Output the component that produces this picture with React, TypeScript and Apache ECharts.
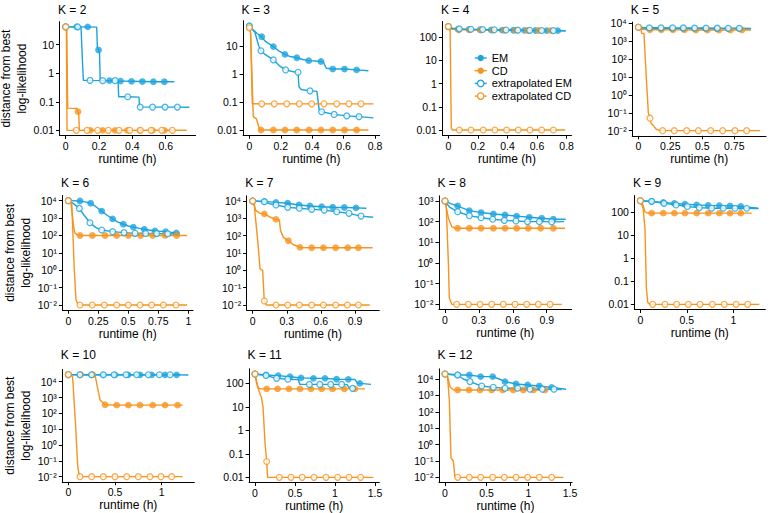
import React, { useEffect, useRef } from 'react';
import * as echarts from 'echarts';

// ---------- data: [runtime (h), distance from best log-likelihood, marker?] ----------
const K2_EM = [[0,42,1],[0.066,42,1],[0.132,42,1],[0.186,41],[0.19,8],[0.197,6.5,1],[0.203,5],[0.207,0.56],[0.263,0.55,1],[0.329,0.53,1],[0.395,0.52,1],[0.46,0.51,1],[0.526,0.5,1],[0.592,0.5,1],[0.652,0.5]];
const K2_CD = [[0,42,1],[0.006,40],[0.012,0.06],[0.068,0.058],[0.074,0.045,1],[0.078,0.04],[0.082,0.01],[0.148,0.01,1],[0.222,0.01,1],[0.296,0.01,1],[0.37,0.01,1],[0.445,0.01,1],[0.52,0.01,1],[0.592,0.01,1],[0.72,0.01]];
const K2_XEM = [[0,42,1],[0.072,42,1],[0.092,41],[0.1,3],[0.106,0.57],[0.146,0.56,1],[0.222,0.55,1],[0.296,0.55,1],[0.314,0.55],[0.318,0.15],[0.372,0.15,1],[0.44,0.145],[0.443,0.066],[0.447,0.065,1],[0.521,0.065,1],[0.596,0.065,1],[0.67,0.065,1],[0.742,0.064]];
const K2_XCD = [[0,42,1],[0.004,40],[0.008,0.01],[0.064,0.01,1],[0.128,0.01,1],[0.192,0.01,1],[0.256,0.01,1],[0.32,0.01,1],[0.384,0.01,1],[0.448,0.01,1],[0.512,0.01,1],[0.576,0.01,1],[0.64,0.01,1],[0.726,0.01]];

const K3_EM = [[0,52,1],[0.02,40],[0.05,28],[0.079,21.5,1],[0.1,15],[0.153,9.5,1],[0.19,6.5],[0.227,5,1],[0.26,4.2],[0.302,3.8,1],[0.34,3.3],[0.378,3,1],[0.42,2.9],[0.456,2.8,1],[0.47,2.7],[0.49,1.6],[0.531,1.5,1],[0.606,1.5,1],[0.683,1.4,1],[0.758,1.3]];
const K3_CD = [[0,45,1],[0.008,30],[0.025,0.03],[0.045,0.025],[0.062,0.012],[0.068,0.01],[0.074,0.01,1],[0.153,0.01,1],[0.227,0.01,1],[0.302,0.01,1],[0.38,0.01,1],[0.456,0.01,1],[0.531,0.01,1],[0.606,0.01,1],[0.683,0.01,1],[0.758,0.01]];
const K3_XEM = [[0,52,1],[0.036,30],[0.06,10],[0.074,6.8,1],[0.1,5],[0.153,3.2,1],[0.19,2],[0.231,1.4,1],[0.28,1.2],[0.31,1.15,1],[0.316,0.35],[0.33,0.28],[0.386,0.25,1],[0.43,0.24],[0.445,0.05],[0.46,0.045,1],[0.54,0.036,1],[0.62,0.032,1],[0.698,0.03,1],[0.79,0.027]];
const K3_XCD = [[0,45,1],[0.008,30],[0.019,0.087],[0.079,0.086,1],[0.159,0.086,1],[0.238,0.086,1],[0.318,0.086,1],[0.397,0.086,1],[0.475,0.086,1],[0.556,0.086,1],[0.634,0.086,1],[0.711,0.086,1],[0.79,0.086]];

const K4_EM = [[0,290,1],[0.02,240],[0.066,225,1],[0.14,218,1],[0.215,212,1],[0.29,208,1],[0.365,204,1],[0.44,201,1],[0.515,199,1],[0.59,197,1],[0.665,195,1],[0.74,194,1],[0.793,193]];
const K4_CD = [[0,290,1],[0.015,230],[0.07,212,1],[0.145,210,1],[0.22,207,1],[0.3,205,1],[0.378,203,1],[0.455,200,1],[0.535,198,1],[0.612,196,1],[0.69,194,1]];
const K4_XEM = [[0,290,1],[0.02,245],[0.074,232,1],[0.153,224,1],[0.232,218,1],[0.311,213,1],[0.39,208,1],[0.47,204,1],[0.55,200,1],[0.631,197,1],[0.71,195,1],[0.793,193]];
const K4_XCD = [[0,290,1],[0.012,280],[0.02,0.012],[0.028,0.01],[0.074,0.01,1],[0.153,0.01,1],[0.236,0.01,1],[0.315,0.01,1],[0.394,0.01,1],[0.473,0.01,1],[0.552,0.01,1],[0.631,0.01,1],[0.71,0.01,1],[0.79,0.01]];

const K5_EM = [[0,6000,1],[0.03,5400],[0.088,5200,1],[0.176,5150,1],[0.264,5100,1],[0.352,5050,1],[0.44,5000,1],[0.528,5000,1],[0.616,4950,1],[0.704,4900,1],[0.792,4900,1],[0.88,4850]];
const K5_CD = [[0,6000,1],[0.02,4600],[0.09,4400,1],[0.18,4350,1],[0.27,4300,1],[0.36,4300,1],[0.45,4250,1],[0.54,4250,1],[0.63,4200,1],[0.72,4200,1],[0.81,4200,1],[0.88,4150]];
const K5_XEM = [[0,6000,1],[0.04,5800],[0.086,5700,1],[0.177,5650,1],[0.268,5600,1],[0.352,5550,1],[0.44,5500,1],[0.529,5450,1],[0.617,5400,1],[0.703,5350,1],[0.789,5300,1],[0.88,5200]];
const K5_XCD = [[0,6000,1],[0.02,5500],[0.026,2750],[0.044,2700],[0.062,10],[0.078,0.1],[0.091,0.05,1],[0.1,0.025],[0.12,0.018],[0.14,0.012],[0.17,0.01],[0.19,0.01,1],[0.281,0.01,1],[0.378,0.01,1],[0.469,0.01,1],[0.565,0.01,1],[0.659,0.01,1],[0.755,0.01,1],[0.846,0.01,1],[0.95,0.01]];

const K6_EM = [[0,10000,1],[0.097,9500,1],[0.14,8500],[0.186,7100,1],[0.23,4500],[0.278,2500,1],[0.32,1500],[0.369,890,1],[0.41,600],[0.458,440,1],[0.5,350],[0.542,300,1],[0.633,225,1],[0.722,180,1],[0.811,165,1],[0.9,140,1],[0.93,130]];
const K6_CD = [[0,10000,1],[0.02,9000],[0.045,300],[0.056,130],[0.08,105],[0.097,100,1],[0.2,100,1],[0.306,100,1],[0.403,100,1],[0.5,100,1],[0.603,100,1],[0.703,100,1],[0.806,100,1],[0.903,100,1],[0.99,100]];
const K6_XEM = [[0,10000,1],[0.04,7000],[0.092,3600,1],[0.13,1500],[0.18,540,1],[0.23,280],[0.278,205,1],[0.369,165,1],[0.464,145,1],[0.556,132,1],[0.644,130,1],[0.736,128,1],[0.828,125,1],[0.917,120]];
const K6_XCD = [[0,10000,1],[0.02,9500],[0.028,8000],[0.05,1],[0.064,0.02],[0.08,0.011],[0.097,0.01,1],[0.2,0.01,1],[0.3,0.01,1],[0.403,0.01,1],[0.5,0.01,1],[0.597,0.01,1],[0.694,0.01,1],[0.792,0.01,1],[0.897,0.01,1],[0.99,0.01]];

const K7_EM = [[0,10000,1],[0.103,9500,1],[0.205,8300,1],[0.308,7400,1],[0.408,5900,1],[0.504,5200,1],[0.607,4700,1],[0.704,4400,1],[0.806,4200,1],[0.909,4000,1],[1.0,3800]];
const K7_CD = [[0,10000,1],[0.01,9000],[0.025,3000],[0.06,2000],[0.103,1800,1],[0.15,1200],[0.205,870,1],[0.235,800],[0.245,200],[0.27,80],[0.314,51,1],[0.36,30],[0.416,21,1],[0.519,20,1],[0.622,20,1],[0.73,20,1],[0.836,20,1],[0.93,20,1],[1.055,20]];
const K7_XEM = [[0,10000,1],[0.103,9000,1],[0.15,7000],[0.205,5900,1],[0.308,4300,1],[0.41,3800,1],[0.519,3300,1],[0.63,3000,1],[0.739,2400,1],[0.847,1950,1],[0.953,1350,1],[1.06,1150]];
const K7_XCD = [[0,10000,1],[0.015,5000],[0.025,1000],[0.04,100],[0.055,8],[0.065,1.2],[0.088,1],[0.1,0.03],[0.103,0.017,1],[0.12,0.01],[0.205,0.01,1],[0.308,0.01,1],[0.41,0.01,1],[0.519,0.01,1],[0.622,0.01,1],[0.73,0.01,1],[0.833,0.01,1],[0.93,0.01,1],[1.03,0.01]];

const K8_EM = [[0,1000,1],[0.05,750],[0.112,570,1],[0.215,340,1],[0.319,275,1],[0.428,235,1],[0.531,210,1],[0.634,185,1],[0.746,162,1],[0.856,145,1],[0.959,130,1],[1.068,130]];
const K8_CD = [[0,1000,1],[0.03,150],[0.059,58],[0.09,48],[0.112,48,1],[0.215,48,1],[0.319,48,1],[0.428,48,1],[0.531,48,1],[0.634,48,1],[0.737,48,1],[0.847,48,1],[0.959,48,1],[1.062,48]];
const K8_XEM = [[0,1000,1],[0.04,500],[0.112,300,1],[0.215,195,1],[0.319,155,1],[0.422,130,1],[0.525,115,1],[0.628,107,1],[0.73,100,1],[0.835,100,1],[0.944,98,1],[1.053,100]];
const K8_XCD = [[0,1000,1],[0.01,800],[0.03,1],[0.038,0.02],[0.06,0.01],[0.103,0.01,1],[0.207,0.01,1],[0.31,0.01,1],[0.413,0.01,1],[0.516,0.01,1],[0.62,0.01,1],[0.723,0.01,1],[0.826,0.01,1],[0.93,0.01,1],[1.033,0.01]];

const K9_EM = [[0,320,1],[0.122,300,1],[0.247,270,1],[0.366,245,1],[0.48,225,1],[0.606,210,1],[0.73,200,1],[0.85,195,1],[0.964,190,1],[1.08,180,1],[1.27,150]];
const K9_CD = [[0,320,1],[0.03,200],[0.05,105],[0.08,93],[0.122,92,1],[0.247,92,1],[0.366,92,1],[0.48,92,1],[0.606,92,1],[0.73,92,1],[0.85,92,1],[0.964,92,1],[1.08,92,1],[1.197,92]];
const K9_XEM = [[0,320,1],[0.122,300,1],[0.254,245,1],[0.384,210,1],[0.505,180,1],[0.634,160,1],[0.767,150,1],[0.892,150,1],[1.018,150,1],[1.143,150,1],[1.27,145]];
const K9_XCD = [[0,320,1],[0.03,150],[0.05,20],[0.065,0.05],[0.08,0.012],[0.1,0.01],[0.133,0.01,1],[0.265,0.01,1],[0.39,0.01,1],[0.516,0.01,1],[0.642,0.01,1],[0.774,0.01,1],[0.903,0.01,1],[1.03,0.01,1],[1.154,0.01,1],[1.28,0.01]];

const K10_EM = [[0,28000,1],[0.125,27000,1],[0.25,27000,1],[0.375,27000,1],[0.5,27000,1],[0.64,27000,1],[0.768,27000,1],[0.893,27000,1],[1.036,27000,1],[1.16,27000,1],[1.286,26500]];
const K10_CD = [[0,28000,1],[0.131,28000,1],[0.262,28000,1],[0.286,27000],[0.31,5000],[0.34,700],[0.38,400],[0.393,350,1],[0.518,330,1],[0.643,330,1],[0.768,330,1],[0.904,330,1],[1.036,330,1],[1.171,330,1],[1.225,330]];
const K10_XEM = [[0,28000,1],[0.125,27500,1],[0.25,27500,1],[0.375,27500,1],[0.49,27500,1],[0.618,27500,1],[0.732,27500,1],[0.857,27500,1],[0.975,27500,1],[1.09,27500,1],[1.2,27500]];
const K10_XCD = [[0,28000,1],[0.03,27000],[0.046,20000],[0.08,10],[0.1,0.05],[0.118,0.011],[0.125,0.01,1],[0.25,0.01,1],[0.375,0.01,1],[0.5,0.01,1],[0.625,0.01,1],[0.75,0.01,1],[0.875,0.01,1],[0.993,0.01,1],[1.107,0.01,1],[1.225,0.01]];

const K11_EM = [[0,250,1],[0.1375,226,1],[0.29,212,1],[0.4375,190,1],[0.575,170,1],[0.73,163,1],[0.875,163,1],[1.02,150,1],[1.167,148,1],[1.25,145],[1.28,105],[1.31,100,1],[1.45,90]];
const K11_CD = [[0,250,1],[0.02,120],[0.042,62],[0.08,58],[0.146,58,1],[0.283,58,1],[0.425,58,1],[0.5625,58,1],[0.7,58,1],[0.833,58,1],[0.97,58,1],[1.117,58,1],[1.25,58,1],[1.375,58]];
const K11_XEM = [[0,250,1],[0.1375,215,1],[0.27,163,1],[0.41,150,1],[0.54,145],[0.56,92],[0.68,90,1],[0.81,90,1],[0.946,90,1],[1.083,90,1],[1.15,88],[1.18,62],[1.22,61,1],[1.235,60]];
const K11_XCD = [[0,250,1],[0.02,100],[0.04,60],[0.08,25],[0.1,10],[0.125,0.3],[0.146,0.047,1],[0.152,0.02],[0.158,0.01],[0.304,0.01,1],[0.45,0.01,1],[0.59,0.01,1],[0.7375,0.01,1],[0.8875,0.01,1],[1.033,0.01,1],[1.175,0.01,1],[1.32,0.01,1],[1.48,0.01]];

const K12_EM = [[0,20000,1],[0.152,17500,1],[0.292,17500,1],[0.428,14000,1],[0.572,14000,1],[0.65,10000],[0.72,6900,1],[0.852,4950,1],[0.992,4300,1],[1.132,3700,1],[1.28,3100,1],[1.452,2350]];
const K12_CD = [[0,20000,1],[0.03,15000],[0.06,3400],[0.1,2200],[0.152,2150,1],[0.288,2150,1],[0.42,2150,1],[0.56,2150,1],[0.692,2150,1],[0.82,2150,1],[0.94,2150,1],[1.06,2150,1],[1.2,2150,1],[1.22,2150]];
const K12_XEM = [[0,20000,1],[0.152,17500,1],[0.22,10000],[0.3,6900,1],[0.44,3700,1],[0.58,3100,1],[0.72,2700,1],[0.872,2700,1],[1.02,2350,1],[1.168,2350,1],[1.308,2350,1],[1.4,2300]];
const K12_XCD = [[0,20000,1],[0.03,15000],[0.052,500],[0.072,0.15],[0.1,0.1],[0.12,0.01],[0.152,0.01,1],[0.292,0.01,1],[0.428,0.01,1],[0.572,0.01,1],[0.712,0.01,1],[0.852,0.01,1],[0.992,0.01,1],[1.132,0.01,1],[1.28,0.01,1],[1.42,0.01]];

const K_VALUES = [2, 3, 4, 5, 6, 7, 8, 9, 10, 11, 12];
const TRACES = [
  [K2_EM, K2_CD, K2_XEM, K2_XCD],
  [K3_EM, K3_CD, K3_XEM, K3_XCD],
  [K4_EM, K4_CD, K4_XEM, K4_XCD],
  [K5_EM, K5_CD, K5_XEM, K5_XCD],
  [K6_EM, K6_CD, K6_XEM, K6_XCD],
  [K7_EM, K7_CD, K7_XEM, K7_XCD],
  [K8_EM, K8_CD, K8_XEM, K8_XCD],
  [K9_EM, K9_CD, K9_XEM, K9_XCD],
  [K10_EM, K10_CD, K10_XEM, K10_XCD],
  [K11_EM, K11_CD, K11_XEM, K11_XCD],
  [K12_EM, K12_CD, K12_XEM, K12_XCD],
];
const X_TICK_STEPS = [0.2, 0.2, 0.2, 0.25, 0.25, 0.3, 0.3, 0.5, 0.5, 0.5, 0.5];
const POWER_LABELS = [false, false, false, true, true, true, true, false, true, false, true];
const SERIES_NAMES = ['EM', 'CD', 'extrapolated EM', 'extrapolated CD'];

// ---------- styles / layout ----------
const BLUE = '#1BA3DD';
const ORANGE = '#F7931E';
const COLORS = [BLUE, ORANGE, BLUE, ORANGE];
const OPEN = [false, false, true, true];
const FONT = '"Liberation Sans", Arial, Helvetica, sans-serif';

// pixel of x=0, px per hour, pixel of y=0.01, px per decade, title centre y
const LAYOUT = [
  { x0: 65.7, pxH: 166.67, y01: 130.33, pxD: 28.56, ty: 10 },
  { x0: 249.33, pxH: 157.1, y01: 130, pxD: 28, ty: 10 },
  { x0: 448.33, pxH: 147.9, y01: 130, pxD: 23.17, ty: 10 },
  { x0: 638.33, pxH: 128, y01: 130.67, pxD: 17.89, ty: 10 },
  { x0: 68.33, pxH: 120, y01: 305, pxD: 17.39, ty: 183.3 },
  { x0: 252.67, pxH: 113.7, y01: 305, pxD: 17.33, ty: 183.3 },
  { x0: 445, pxH: 113, y01: 304.33, pxD: 20.67, ty: 183.3 },
  { x0: 640.33, pxH: 93, y01: 304.33, pxD: 23, ty: 183.3 },
  { x0: 68.33, pxH: 93.33, y01: 476.67, pxD: 15.83, ty: 355 },
  { x0: 255, pxH: 80, y01: 477.33, pxD: 23.5, ty: 355 },
  { x0: 445, pxH: 83.33, y01: 477.33, pxD: 16.39, ty: 355 },
];
const FIRST_COLUMN = [0, 4, 8];

const SUP: Record<string, string> = { '-': '⁻', '0': '⁰', '1': '¹', '2': '²', '3': '³', '4': '⁴', '5': '⁵', '6': '⁶' };
function fmtY(v: number, power: boolean): string {
  const n = Math.round(v);
  if (power) return '10' + String(n).split('').map((c) => SUP[c]).join('');
  if (n >= 0) return String(Math.pow(10, n));
  return '0.' + '0'.repeat(-n - 1) + '1';
}
function fmtX(v: number): string {
  return String(Math.round(v * 1000) / 1000);
}

function buildOption() {
  const grid: any[] = [];
  const xAxis: any[] = [];
  const yAxis: any[] = [];
  const title: any[] = [];
  const lines: any[] = [];
  const marks: any[] = [];

  TRACES.forEach((traces, i) => {
    const L = LAYOUT[i];
    const all = ([] as number[][]).concat(...traces);
    const M = Math.max(...all.map((q) => q[0]));
    const logs = all.map((q) => Math.log10(q[1]));
    const lmin = Math.min(...logs);
    const lmax = Math.max(...logs);
    const xmin = -0.05 * M;
    const xmax = 1.05 * M;
    const r = lmax - lmin;
    const ymin = lmin - 0.05 * r;
    const ymax = lmax + 0.05 * r;

    const left = L.x0 + xmin * L.pxH;
    const width = (xmax - xmin) * L.pxH;
    const top = L.y01 - (ymax + 2) * L.pxD;
    const height = (ymax - ymin) * L.pxD;
    grid.push({ left, top, width, height, containLabel: false, outerBoundsMode: 'none' });

    const step = X_TICK_STEPS[i];
    const xt: number[] = [];
    for (let k = 0; k * step <= xmax + 1e-9; k++) xt.push(Math.round(k * step * 1000) / 1000);
    const yt: number[] = [];
    for (let v = Math.ceil(ymin); v <= Math.floor(ymax); v++) yt.push(v);

    const axisCommon = {
      axisLine: { show: true, onZero: false, lineStyle: { color: '#000', width: 1 } },
      splitLine: { show: false },
    };
    xAxis.push({
      type: 'value', gridIndex: i, min: xmin, max: xmax, ...axisCommon,
      axisTick: { show: true, length: 3.5, customValues: xt, lineStyle: { color: '#000', width: 1 } },
      axisLabel: { customValues: xt, color: '#000', fontSize: 10.5, fontFamily: FONT, margin: 5, formatter: (v: number) => fmtX(v) },
      name: 'runtime (h)', nameLocation: 'middle', nameGap: 17.5,
      nameTextStyle: { color: '#000', fontSize: 12, fontFamily: FONT },
    });
    const firstCol = FIRST_COLUMN.indexOf(i) >= 0;
    yAxis.push({
      type: 'value', gridIndex: i, min: ymin, max: ymax, ...axisCommon,
      axisTick: { show: true, length: 3.5, customValues: yt, lineStyle: { color: '#000', width: 1 } },
      axisLabel: { customValues: yt, color: '#000', fontSize: 10.5, fontFamily: FONT, margin: 5.5, formatter: (v: number) => fmtY(v, POWER_LABELS[i]) },
      name: firstCol ? 'distance from best\nlog-likelihood' : '',
      nameLocation: 'middle', nameRotate: 90, nameGap: left - 36,
      nameTextStyle: { color: '#000', fontSize: 12, lineHeight: 16, fontFamily: FONT },
    });
    title.push({
      text: 'K = ' + K_VALUES[i], left: left - 1.5, top: L.ty - 7, padding: 0,
      textStyle: { color: '#000', fontSize: 12, fontWeight: 'normal', lineHeight: 14, fontFamily: FONT },
    });

    traces.forEach((pts, s) => {
      const color = COLORS[s];
      lines.push({
        type: 'line', name: SERIES_NAMES[s], xAxisIndex: i, yAxisIndex: i,
        data: pts.map((q) => [q[0], Math.log10(q[1])]),
        showSymbol: false, symbol: 'circle', silent: true, z: 2,
        lineStyle: { color, width: 1.4 },
        itemStyle: OPEN[s] ? { color: '#fff', borderColor: color, borderWidth: 1.2 } : { color },
      });
      marks.push({
        type: 'scatter', name: SERIES_NAMES[s], xAxisIndex: i, yAxisIndex: i,
        data: pts.filter((q) => q[2] === 1).map((q) => [q[0], Math.log10(q[1])]),
        symbol: 'circle', symbolSize: OPEN[s] ? 5.8 : 6.8, silent: true, z: 3,
        itemStyle: OPEN[s] ? { color: '#fff', borderColor: color, borderWidth: 1.25 } : { color, borderWidth: 0 },
      });
    });
  });

  return {
    animation: false,
    backgroundColor: '#fff',
    textStyle: { fontFamily: FONT },
    title,
    grid,
    xAxis,
    yAxis,
    legend: {
      orient: 'vertical', left: 474, top: 52, padding: 0,
      itemWidth: 12, itemHeight: 8, itemGap: 0.7, selectedMode: false,
      textStyle: { color: '#000', fontSize: 11, lineHeight: 12, fontFamily: FONT },
      data: SERIES_NAMES.map((name, s) => ({
        name,
        lineStyle: { color: COLORS[s], width: 1.4 },
        itemStyle: OPEN[s]
          ? { color: '#fff', borderColor: COLORS[s], borderWidth: 1.2 }
          : { color: COLORS[s], borderColor: COLORS[s], borderWidth: 0 },
      })),
    },
    series: [...lines, ...marks],
  };
}

export default function App() {
  const ref = useRef<HTMLDivElement>(null);
  useEffect(() => {
    if (!ref.current) return;
    const chart = echarts.init(ref.current, undefined, { renderer: 'svg' });
    chart.setOption(buildOption() as any);
    return () => chart.dispose();
  }, []);
  return (
    <div
      ref={ref}
      style={{ position: 'absolute', left: 0, top: 0, width: 771, height: 513, background: '#fff' }}
    />
  );
}
